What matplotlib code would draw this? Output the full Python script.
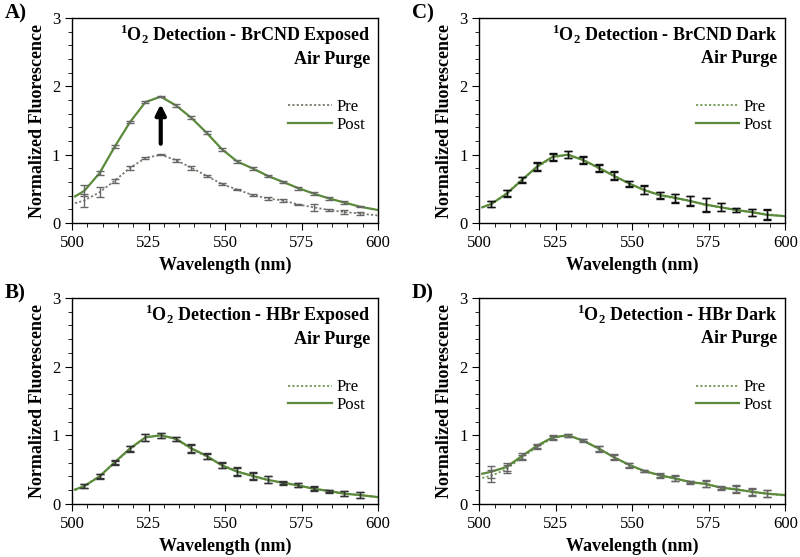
import matplotlib
matplotlib.use('Agg')
import matplotlib.pyplot as plt
from matplotlib.ticker import MultipleLocator

plt.rcParams['font.family'] = 'Liberation Serif'
plt.rcParams['mathtext.fontset'] = 'custom'
plt.rcParams['mathtext.rm'] = 'Liberation Serif'
plt.rcParams['mathtext.bf'] = 'Liberation Serif:bold'

# wavelengths (nm); error bars drawn on the inner points only
wl = [501, 504, 509, 514, 519, 524, 529, 534, 539, 544, 549, 554, 559, 564, 569, 574, 579, 584, 589, 594, 600]

# A) BrCND exposed
a_pre = [0.29, 0.33, 0.45, 0.62, 0.81, 0.95, 1.00, 0.92, 0.81, 0.69, 0.57, 0.49, 0.41, 0.36, 0.33, 0.27, 0.23, 0.19, 0.16, 0.14, 0.11]
a_pre_err = [0.10, 0.07, 0.03, 0.03, 0.02, 0.01, 0.02, 0.03, 0.02, 0.02, 0.01, 0.02, 0.02, 0.02, 0.01, 0.05, 0.02, 0.03, 0.02]
a_post = [0.39, 0.47, 0.73, 1.12, 1.48, 1.77, 1.85, 1.72, 1.54, 1.32, 1.08, 0.90, 0.80, 0.69, 0.60, 0.51, 0.43, 0.36, 0.30, 0.24, 0.19]
a_post_err = [0.08, 0.03, 0.02, 0.02, 0.02, 0.01, 0.02, 0.02, 0.02, 0.02, 0.02, 0.02, 0.02, 0.02, 0.02, 0.02, 0.02, 0.02, 0.01]

# B) HBr exposed
b_pre = [0.20, 0.26, 0.41, 0.60, 0.80, 0.97, 1.00, 0.94, 0.80, 0.69, 0.57, 0.48, 0.40, 0.35, 0.30, 0.27, 0.23, 0.18, 0.15, 0.13, 0.10]
b_post = [0.21, 0.26, 0.40, 0.61, 0.81, 0.97, 1.00, 0.95, 0.81, 0.70, 0.56, 0.47, 0.41, 0.35, 0.31, 0.27, 0.22, 0.19, 0.15, 0.13, 0.10]
b_err = [0.03, 0.03, 0.03, 0.04, 0.05, 0.04, 0.03, 0.06, 0.04, 0.04, 0.06, 0.05, 0.05, 0.02, 0.03, 0.03, 0.02, 0.04, 0.04]

# C) BrCND dark
c_pre = [0.23, 0.28, 0.44, 0.64, 0.82, 0.96, 1.00, 0.93, 0.80, 0.70, 0.57, 0.49, 0.40, 0.36, 0.33, 0.26, 0.23, 0.19, 0.16, 0.13, 0.10]
c_post = [0.23, 0.28, 0.43, 0.63, 0.83, 0.97, 1.00, 0.92, 0.81, 0.69, 0.58, 0.48, 0.41, 0.37, 0.32, 0.27, 0.23, 0.19, 0.16, 0.12, 0.10]
c_err = [0.04, 0.05, 0.04, 0.06, 0.05, 0.05, 0.05, 0.05, 0.06, 0.04, 0.06, 0.05, 0.06, 0.07, 0.10, 0.06, 0.03, 0.05, 0.07]

# D) HBr dark
d_pre = [0.38, 0.41, 0.51, 0.68, 0.83, 0.96, 1.00, 0.93, 0.80, 0.69, 0.56, 0.48, 0.41, 0.38, 0.31, 0.30, 0.23, 0.22, 0.17, 0.15, 0.12]
d_post = [0.44, 0.47, 0.54, 0.70, 0.85, 0.97, 1.00, 0.92, 0.81, 0.68, 0.57, 0.48, 0.42, 0.37, 0.32, 0.29, 0.24, 0.21, 0.18, 0.15, 0.13]
d_err = [0.09, 0.06, 0.04, 0.03, 0.03, 0.02, 0.02, 0.04, 0.04, 0.03, 0.02, 0.03, 0.04, 0.02, 0.05, 0.02, 0.05, 0.05, 0.05]

post_col = '#5a8a3a'

fig = plt.figure(figsize=(8, 5.57), dpi=100)

panels = [
    ('A)', 'BrCND Exposed', [0.09, 0.5996, 0.3825, 0.368], a_pre, a_pre_err, a_post, a_post_err, '#666666', '#767d6e'),
    ('C)', 'BrCND Dark', [0.599, 0.5996, 0.3825, 0.368], c_pre, c_err, c_post, c_err, '#111111', '#6f9a55'),
    ('B)', 'HBr Exposed', [0.09, 0.0952, 0.3825, 0.370], b_pre, b_err, b_post, b_err, '#333333', '#6f9a55'),
    ('D)', 'HBr Dark', [0.599, 0.0952, 0.3825, 0.370], d_pre, d_err, d_post, d_err, '#666666', '#6f9a55'),
]

for lab, name, pos, pre, pre_err, post, post_err, ecol, pre_col in panels:
    ax = fig.add_axes(pos)
    ax.plot(wl, pre, color=pre_col, ls=(0, (1.2, 1.2)), lw=1.3, label='Pre')
    ax.plot(wl, post, color=post_col, ls='-', lw=1.6, label='Post')
    ax.errorbar(wl[1:-1], pre[1:-1], yerr=pre_err, fmt='none', ecolor=ecol,
                elinewidth=1, capsize=3, capthick=1)
    ax.errorbar(wl[1:-1], post[1:-1], yerr=post_err, fmt='none', ecolor=ecol,
                elinewidth=1, capsize=3, capthick=1)
    ax.set_xlim(500, 600)
    ax.set_ylim(0, 3)
    ax.xaxis.set_major_locator(MultipleLocator(25))
    ax.xaxis.set_minor_locator(MultipleLocator(5))
    ax.yaxis.set_major_locator(MultipleLocator(1))
    ax.yaxis.set_minor_locator(MultipleLocator(0.2))
    ax.tick_params(which='both', direction='out', top=False, right=False, labelsize=12)
    ax.tick_params(which='major', length=5)
    ax.tick_params(which='minor', length=3)
    for s in ax.spines.values():
        s.set_linewidth(1)
    ax.set_xlabel('Wavelength (nm)', fontsize=13, fontweight='bold', labelpad=4)
    ax.set_ylabel('Normalized Fluorescence', fontsize=13, fontweight='bold', labelpad=4)
    ax.text(0.975, 0.975, r'$^{\mathbf{1}}$O$_{\mathbf{2}}$ Detection - ' + name + '\nAir Purge',
            transform=ax.transAxes, ha='right', va='top', fontsize=13,
            fontweight='bold', linespacing=1.3)
    ax.legend(loc='upper left', bbox_to_anchor=(0.68, 0.645), frameon=False,
              fontsize=12, handlelength=2.6, handletextpad=0.3, labelspacing=0.1,
              borderpad=0)
    ax.text(-0.22, 1.02, lab, transform=ax.transAxes, fontsize=15,
            fontweight='bold', ha='left', va='center')
    if lab == 'A)':
        ax.annotate('', xy=(529, 1.78), xytext=(529, 1.12),
                    arrowprops=dict(arrowstyle='-|>,head_length=0.6,head_width=0.3',
                                    color='black', lw=3))

fig.savefig('out.png', dpi=100)
